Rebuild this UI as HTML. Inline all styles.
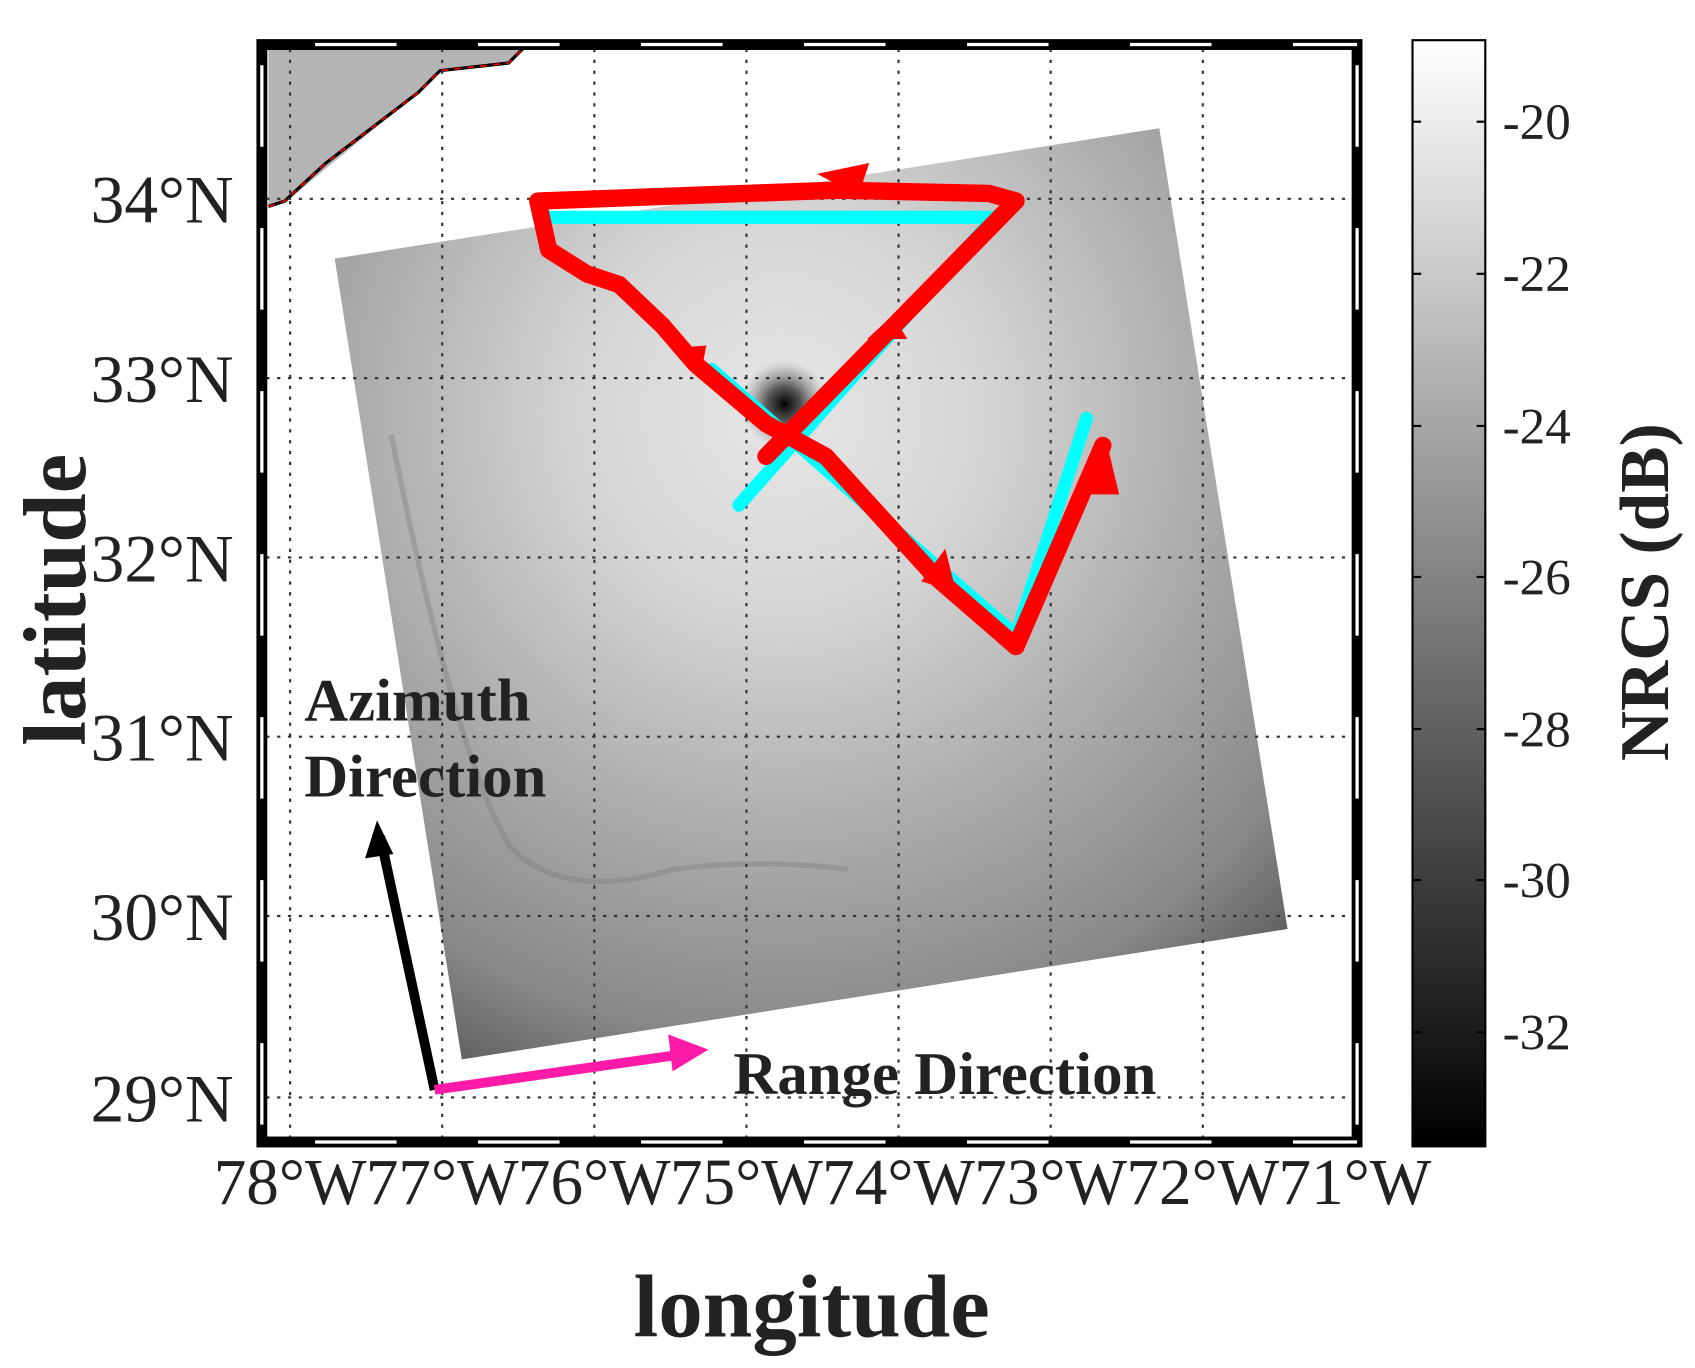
<!DOCTYPE html>
<html><head><meta charset="utf-8"><style>
html,body{margin:0;padding:0;background:#fff;}
svg{display:block;}
text{font-family:"Liberation Serif",serif;fill:#222;}
</style></head><body>
<svg width="1695" height="1368" viewBox="0 0 1560 1259" preserveAspectRatio="none" xmlns="http://www.w3.org/2000/svg">
<defs>
<radialGradient id="sar" cx="720" cy="380" r="720" gradientUnits="userSpaceOnUse">
<stop offset="0" stop-color="#e6e6e6"/>
<stop offset="0.25" stop-color="#d6d6d6"/>
<stop offset="0.55" stop-color="#ababab"/>
<stop offset="0.8" stop-color="#888"/>
<stop offset="1" stop-color="#4a4a4a"/>
</radialGradient>
<radialGradient id="eye" cx="722" cy="372" r="40" gradientUnits="userSpaceOnUse">
<stop offset="0" stop-color="#000"/>
<stop offset="0.4" stop-color="#333" stop-opacity="0.8"/>
<stop offset="1" stop-color="#888" stop-opacity="0"/>
</radialGradient>
<linearGradient id="cb" x1="0" y1="0" x2="0" y2="1">
<stop offset="0" stop-color="#fff"/>
<stop offset="1" stop-color="#000"/>
</linearGradient>
</defs>
<!-- land -->
<polygon points="247,44 482,44 468,58 405,65 385,85 300,155 262,187 247,190" fill="#b4b4b4"/>
<polyline points="247,190 262,185 300,150 385,85 405,65 468,58 482,44" fill="none" stroke="#000" stroke-width="3"/>
<polyline points="247,190 262,185 300,150 385,85 405,65 468,58 482,44" fill="none" stroke="red" stroke-width="1.5" stroke-dasharray="6 6"/>
<!-- swath -->
<polygon points="308,238 1067,118 1185,855 425,975" fill="url(#sar)"/>
<path d="M360,400 Q420,700 470,780 Q520,830 620,800 Q700,790 780,800" fill="none" stroke="#777" stroke-width="5" opacity="0.35"/>
<circle cx="722" cy="372" r="40" fill="url(#eye)"/>
<!-- grid -->
<g stroke="#333" stroke-width="2" stroke-dasharray="3 7">
<line x1="267" y1="45" x2="267" y2="1047"/><line x1="407" y1="45" x2="407" y2="1047"/><line x1="547" y1="45" x2="547" y2="1047"/><line x1="687" y1="45" x2="687" y2="1047"/><line x1="827" y1="45" x2="827" y2="1047"/><line x1="967" y1="45" x2="967" y2="1047"/><line x1="1107" y1="45" x2="1107" y2="1047"/>
<line x1="245" y1="183" x2="1245" y2="183"/><line x1="245" y1="348" x2="1245" y2="348"/><line x1="245" y1="513" x2="1245" y2="513"/><line x1="245" y1="678" x2="1245" y2="678"/><line x1="245" y1="843" x2="1245" y2="843"/><line x1="245" y1="1010" x2="1245" y2="1010"/>
</g>
<!-- cyan tracks -->
<g fill="none" stroke="#00ffff" stroke-width="12" stroke-linecap="round" stroke-linejoin="round">
<polyline points="500,200 915,200 680,465"/>
<polyline points="655,340 935,585 1000,385"/>
</g>
<!-- red tracks -->
<g fill="none" stroke="red" stroke-width="16" stroke-linecap="round" stroke-linejoin="round">
<polyline points="935,185 910,178 770,175 495,185 505,230 540,252 570,262 610,300 640,335 705,390 760,420 860,530 935,595 1015,410"/>
<polyline points="705,420 935,185"/>
</g>
<g fill="red">
<polygon points="752,160 800,150 790,180"/>
<polygon points="645,345 625,320 650,318"/>
<polygon points="880,545 848,535 870,505"/>
<polygon points="822,290 798,312 835,312"/>
<polygon points="1018,405 990,455 1030,455"/>
</g>
<!-- direction arrows -->
<line x1="400" y1="1003" x2="350" y2="770" stroke="#000" stroke-width="9"/>
<polygon points="347,755 336,790 362,786" fill="#000"/>
<line x1="400" y1="1003" x2="630" y2="970" stroke="#ff1aa8" stroke-width="9"/>
<polygon points="652,966 615,952 619,986" fill="#ff1aa8"/>
<text x="280" y="663" font-size="56" font-weight="bold">Azimuth</text>
<text x="280" y="733" font-size="56" font-weight="bold">Direction</text>
<text x="675" y="1007" font-size="56" font-weight="bold">Range Direction</text>
<!-- frame -->
<rect x="241" y="41" width="1008" height="1010" fill="none" stroke="#000" stroke-width="10"/>
<g stroke="#fff" stroke-width="3" stroke-dasharray="75 75">
<line x1="290" y1="41" x2="1249" y2="41"/><line x1="290" y1="1051" x2="1249" y2="1051"/>
<line x1="241" y1="60" x2="241" y2="1051"/><line x1="1249" y1="60" x2="1249" y2="1051"/>
</g>
<!-- tick labels -->
<g font-size="62" text-anchor="end">
<text x="215" y="205">34°N</text><text x="215" y="370">33°N</text><text x="215" y="535">32°N</text><text x="215" y="700">31°N</text><text x="215" y="865">30°N</text><text x="215" y="1032">29°N</text>
</g>
<g font-size="60" text-anchor="middle">
<text x="267" y="1108">78°W</text><text x="407" y="1108">77°W</text><text x="547" y="1108">76°W</text><text x="687" y="1108">75°W</text><text x="827" y="1108">74°W</text><text x="967" y="1108">73°W</text><text x="1107" y="1108">72°W</text><text x="1247" y="1108">71°W</text>
</g>
<text x="747" y="1230" font-size="82" font-weight="bold" text-anchor="middle">longitude</text>
<text transform="translate(78,552) rotate(-90)" font-size="82" font-weight="bold" text-anchor="middle">latitude</text>
<!-- colorbar -->
<rect x="1300" y="37" width="67" height="1018" fill="url(#cb)" stroke="#000" stroke-width="2"/>
<g stroke="#000" stroke-width="2">
<line x1="1300" y1="112" x2="1308" y2="112"/><line x1="1359" y1="112" x2="1367" y2="112"/>
<line x1="1300" y1="252" x2="1308" y2="252"/><line x1="1359" y1="252" x2="1367" y2="252"/>
<line x1="1300" y1="392" x2="1308" y2="392"/><line x1="1359" y1="392" x2="1367" y2="392"/>
<line x1="1300" y1="531" x2="1308" y2="531"/><line x1="1359" y1="531" x2="1367" y2="531"/>
<line x1="1300" y1="671" x2="1308" y2="671"/><line x1="1359" y1="671" x2="1367" y2="671"/>
<line x1="1300" y1="810" x2="1308" y2="810"/><line x1="1359" y1="810" x2="1367" y2="810"/>
<line x1="1300" y1="950" x2="1308" y2="950"/><line x1="1359" y1="950" x2="1367" y2="950"/>
</g>
<g font-size="47">
<text x="1383" y="128">-20</text><text x="1383" y="268">-22</text><text x="1383" y="408">-24</text><text x="1383" y="547">-26</text><text x="1383" y="687">-28</text><text x="1383" y="826">-30</text><text x="1383" y="966">-32</text>
</g>
<text transform="translate(1535,545) rotate(-90)" font-size="64" font-weight="bold" text-anchor="middle">NRCS (dB)</text>
</svg>
</body></html>
